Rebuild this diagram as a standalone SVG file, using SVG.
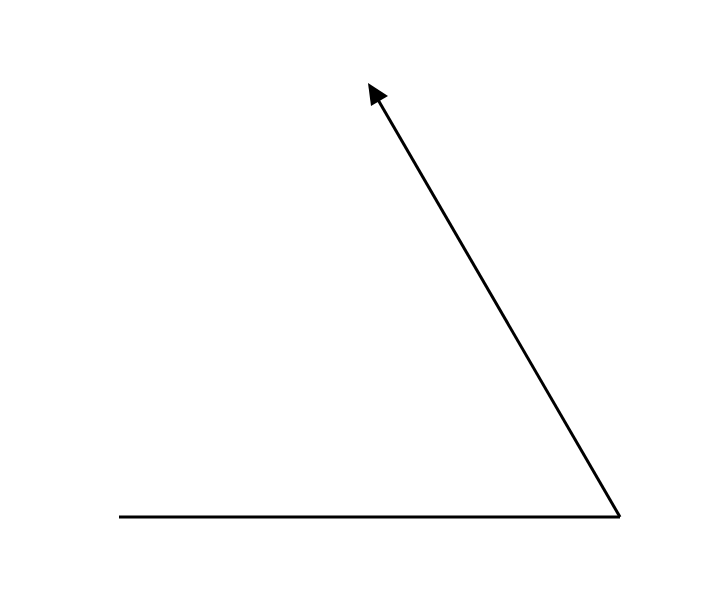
<svg xmlns="http://www.w3.org/2000/svg" width="728" height="614" viewBox="0 0 728 614">
<defs>
<style>.ln{stroke:#000;stroke-width:3;fill:none;stroke-linecap:butt}</style>
</defs>
<rect width="728" height="614" fill="#fff"/>
<g id="connectors">
<line class="ln" x1="119" y1="517" x2="620" y2="517"/>
<line class="ln" x1="620" y1="517" x2="377" y2="98"/>
<polygon points="368,83 388,96 371,106" fill="#000"/>
</g>
</svg>
